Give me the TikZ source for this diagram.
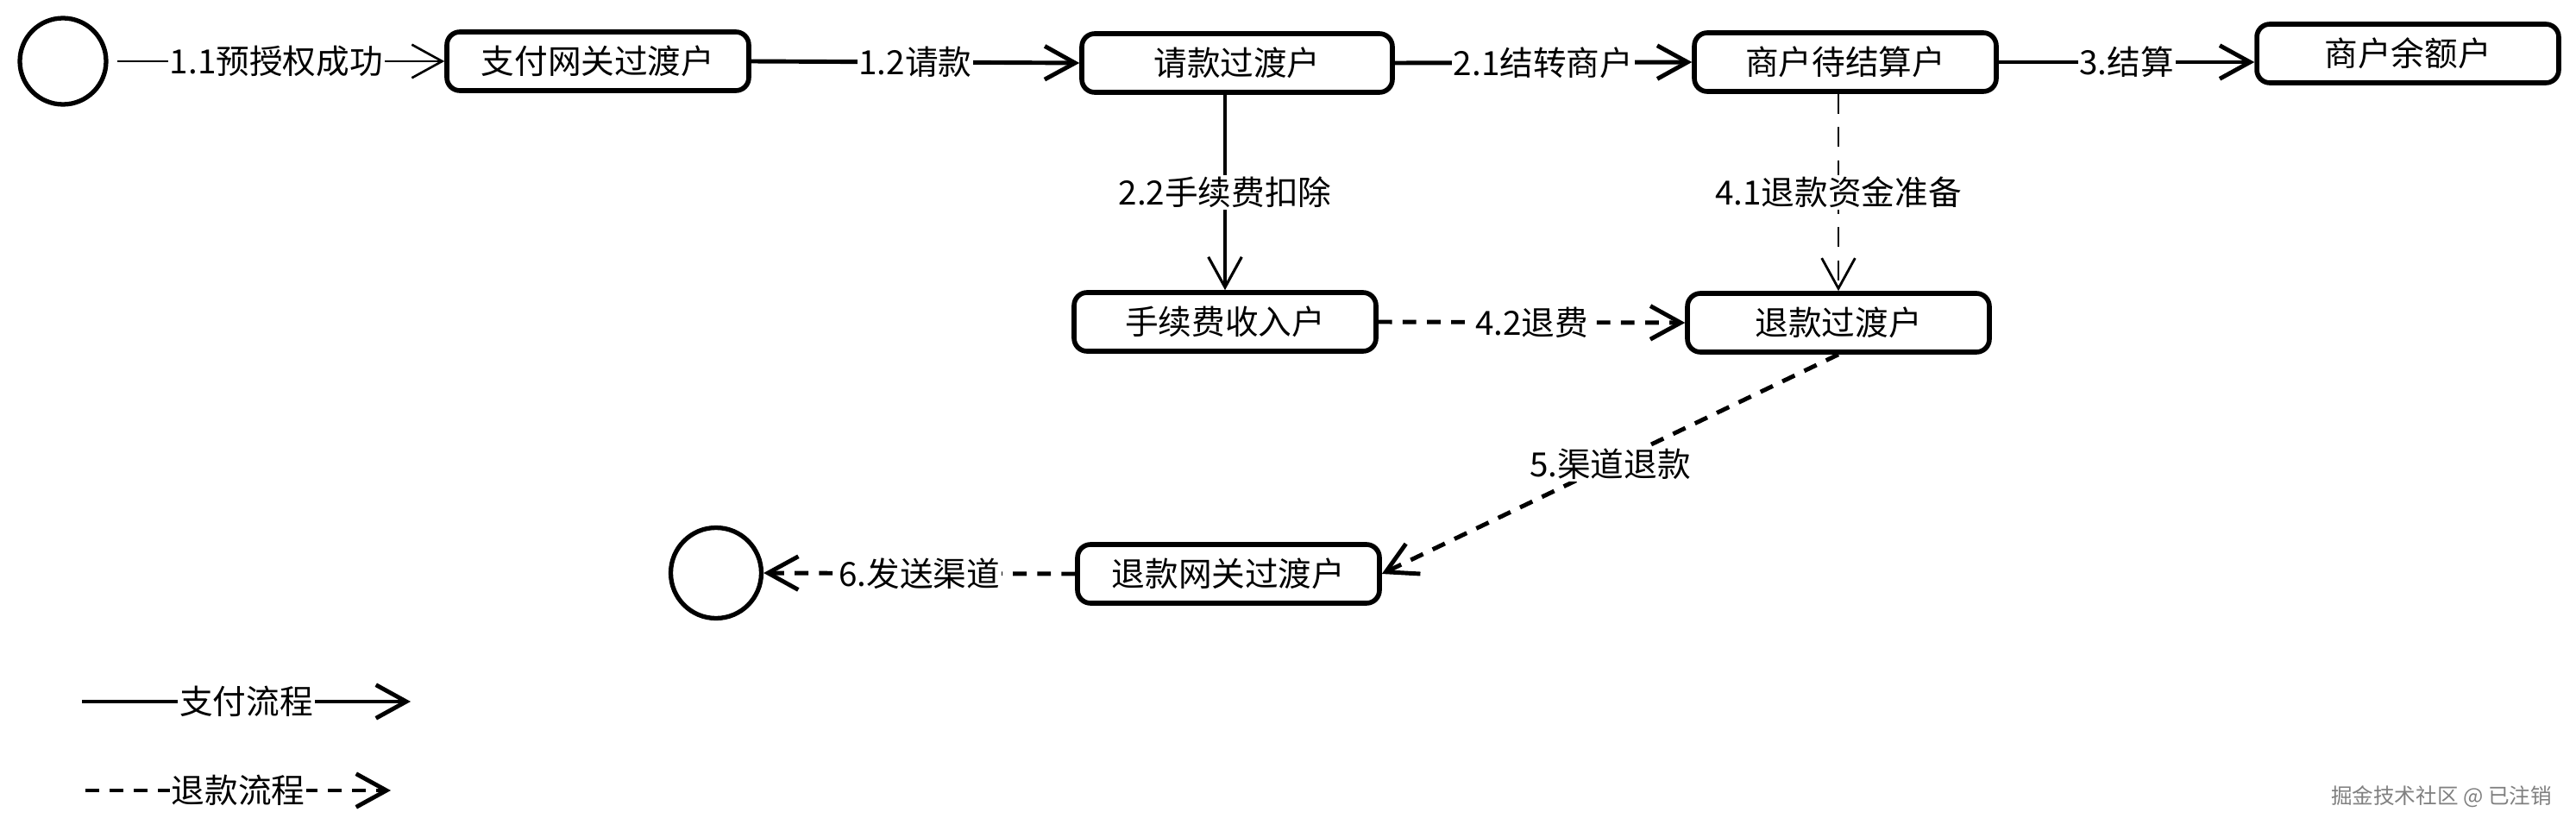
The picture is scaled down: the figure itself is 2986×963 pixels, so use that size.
\documentclass[tikz,border=0pt]{standalone}
\usepackage{fontspec}
\setmainfont{Noto Sans CJK SC}
\usetikzlibrary{arrows.meta}
\begin{document}
\begin{tikzpicture}[x=0.02cm,y=-0.02cm,
  font=\fontsize{22}{26}\selectfont,
  acct/.style={draw,line width=3.2pt,rounded corners=0.3cm,minimum width=7cm,minimum height=1.36cm,inner sep=0pt},
  ends/.style={draw,circle,line width=3pt,inner sep=0pt},
  pay/.style={line width=2.8pt,-{Straight Barb[length=20pt,width=22pt]}},
  refund/.style={pay,dash pattern=on 9pt off 7pt},
  lbl/.style={fill=white,inner sep=1pt}]
\useasboundingbox (0,0) rectangle (2986,963);

\node[ends,minimum size=2cm] (start) at (73,71) {};
\node[acct] (gw) at (693,71) {支付网关过渡户};
\node[acct,minimum width=7.2cm] (req) at (1434,73) {请款过渡户};
\node[acct] (mpend) at (2139,72) {商户待结算户};
\node[acct] (mbal) at (2791,62) {商户余额户};
\node[acct] (fee) at (1420,373) {手续费收入户};
\node[acct] (rfd) at (2131,374) {退款过渡户};
\node[acct] (rgw) at (1424,665) {退款网关过渡户};
\node[ends,minimum size=2.1cm] (stop) at (830,664) {};

% pay flow
\draw[pay,line width=1.5pt,shorten <=0.2cm] (start.east) -- node[lbl] {1.1预授权成功} (gw.west);
\draw[pay] (gw.east) -- node[lbl] {1.2请款} (req.west);
\draw[pay] (req.east) -- node[lbl] {2.1结转商户} (mpend.west);
\draw[pay] (mpend.east) -- node[lbl] {3.结算} (mpend.east -| mbal.west);
\draw[pay,line width=1.8pt] (fee.north |- req.south) -- node[lbl] {2.2手续费扣除} (fee.north);

% refund flow
\draw[refund,line width=1.6pt,dash pattern=on 13pt off 9pt] (rfd.north |- mpend.south) -- node[lbl] {4.1退款资金准备} (rfd.north);
\draw[refund] (fee.east) -- node[lbl] {4.2退费} (rfd.west);
\draw[refund] (rfd.south) -- node[lbl] {5.渠道退款} (rgw.east);
\draw[refund] (rgw.west) -- node[lbl] {6.发送渠道} (stop.east);

% legend
\coordinate (p0) at (95,813);
\coordinate (p1) at (476,813);
\draw[pay] (p0) -- node[lbl] {支付流程} (p1);
\coordinate (r0) at (99,916);
\coordinate (r1) at (453,916);
\draw[refund] (r0) -- node[lbl] {退款流程} (r1);

\node[text=gray,font=\fontsize{14}{16}\selectfont] (mark) at (2830,923) {掘金技术社区 @ 已注销};
\end{tikzpicture}
\end{document}
